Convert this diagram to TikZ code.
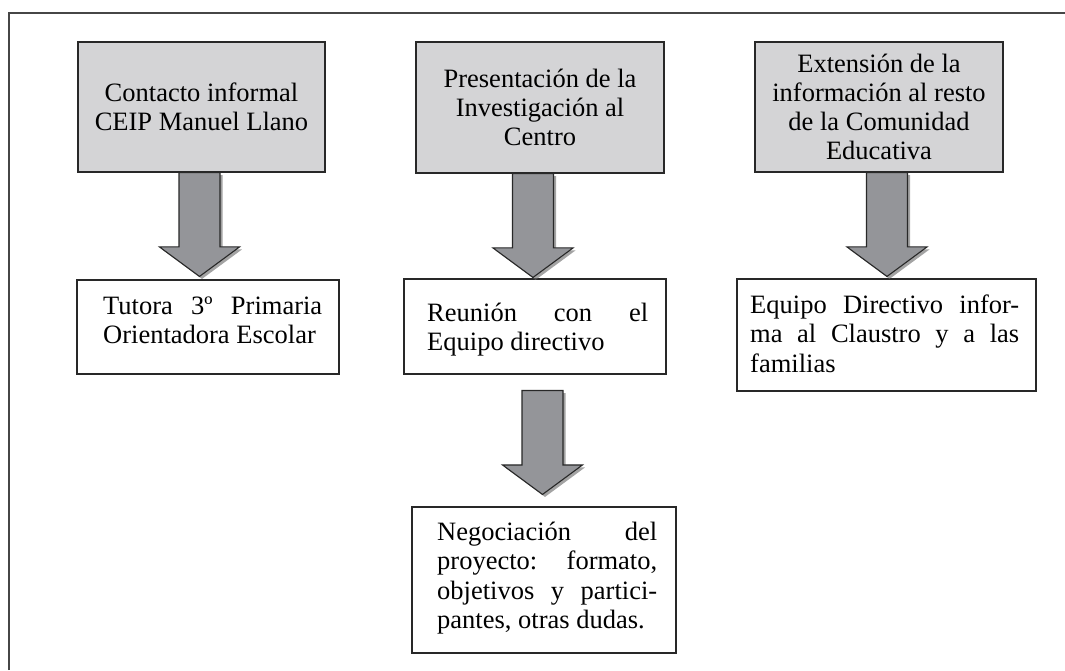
\documentclass[tikz,border=0pt]{standalone}
\usepackage{fontspec}
\setmainfont{Liberation Serif}
\usetikzlibrary{calc}
\definecolor{boxgray}{RGB}{212,212,214}
\definecolor{arrgray}{RGB}{148,149,153}
\definecolor{linegray}{RGB}{40,40,40}
\definecolor{framegray}{RGB}{70,70,70}
\newcommand\jl[2]{\makebox[#1pt][s]{#2}}
\newcommand\arrowoutline[2]{%
  ($(ta)+(-20.5+#1,#2)$) -- ($(ta)+(20.5+#1,#2)$) -- ($(tb)+(20.5+#1,29.5+#2)$) --
  ($(tb)+(40+#1,29.5+#2)$) -- ($(tb)+(#1,#2)$) -- ($(tb)+(-40+#1,29.5+#2)$) --
  ($(tb)+(-20.5+#1,29.5+#2)$) -- cycle}
\newcommand\blockarrow[5]{%
  \path let \p1=(#1.south), \p2=(#2.north) in
    coordinate (ta) at (#3,\y1-#4) coordinate (tb) at (#3,\y2+#5);
  \fill[arrowshadow] \arrowoutline{2.5}{-2.5};
  \draw[arrowbody] \arrowoutline{0}{0};
}
\begin{document}
\begin{tikzpicture}[x=1pt,y=1pt,
  graybox/.style={draw=linegray, line width=1.1pt, fill=boxgray, inner sep=0,
    align=center, font=\fontsize{26.5}{29}\selectfont},
  whitebox/.style={draw=linegray, line width=1.1pt, fill=white, inner sep=0},
  boxtext/.style={anchor=north west, inner sep=0, align=left,
    font=\fontsize{26.5}{29.5}\selectfont},
  arrowbody/.style={draw=linegray, line width=1.1pt, fill=arrgray, line join=miter},
  arrowshadow/.style={fill=black!60, draw=none, opacity=0.6}
]
\useasboundingbox (0,0) rectangle (1065,670);
\draw[framegray, line width=2pt] (9,0) -- (9,657) -- (1065,657);

% top grey boxes
\node[graybox, minimum width=247, minimum height=130] (g1) at (201.5,563)
  {Contacto informal\\CEIP Manuel Llano};
\node[graybox, minimum width=248, minimum height=131] (g2) at (540,562.5)
  {Presentación de la\\Investigación al\\Centro};
\node[graybox, minimum width=248, minimum height=130] (g3) at (879,563)
  {Extensión de la\\información al resto\\de la Comunidad\\Educativa};

% white boxes
\node[whitebox, minimum width=262, minimum height=94] (w1) at (208,343) {};
\node[whitebox, minimum width=262, minimum height=95] (w2) at (535,343.5) {};
\node[whitebox, minimum width=299, minimum height=112] (w3) at (886.5,335) {};
\node[whitebox, minimum width=264, minimum height=146] (w4) at (544,90) {};

\node[boxtext] (t1) at (103,376.65)
  {\strut\jl{219}{Tutora 3º Primaria}\\Orientadora Escolar};
\node[boxtext] (t2) at (427,369.65)
  {\strut\jl{221}{Reunión con el}\\Equipo directivo};
\node[boxtext] (t3) at (750,377.65)
  {\strut\jl{269}{Equipo Directivo infor-}\\\jl{269}{ma al Claustro y a las}\\familias};
\node[boxtext] (t4) at (437,150.65)
  {\strut\jl{220}{Negociación del}\\\jl{220}{proyecto: formato,}\\\jl{220}{objetivos y partici-}\\pantes, otras dudas.};

% block arrows
\blockarrow{g1}{w1}{199.5}{0}{3}
\blockarrow{g2}{w2}{533}{0}{1}
\blockarrow{w2}{w4}{542.5}{16}{12}
\blockarrow{g3}{w3}{887}{0}{2}
\end{tikzpicture}
\end{document}
